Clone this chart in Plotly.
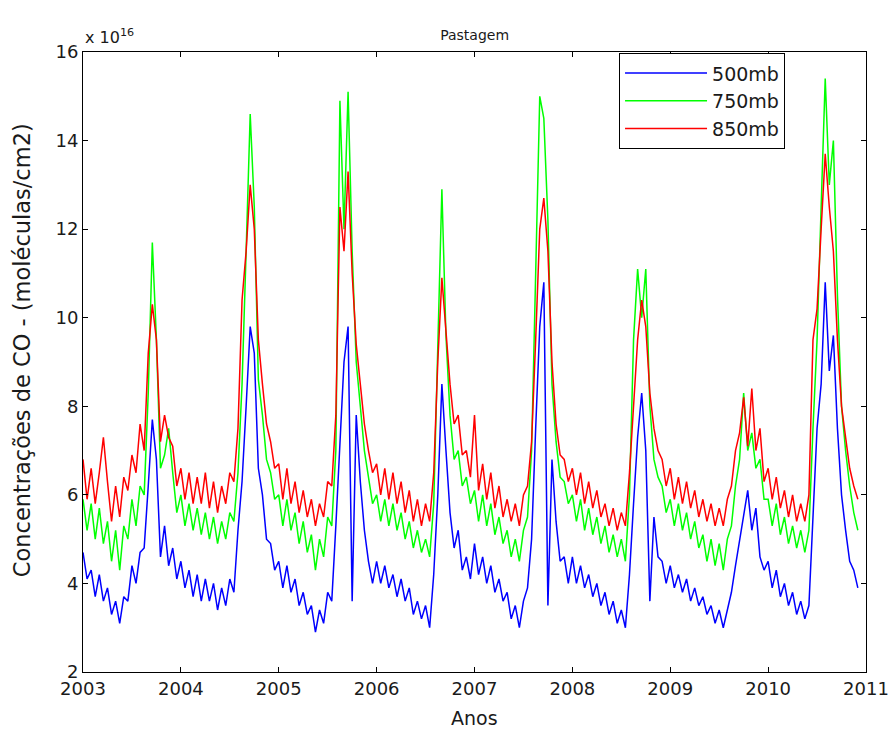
import plotly.graph_objects as go

start_year = 2003
samples_per_year = 24

# CO concentration (x 1e16 molecules/cm2), semi-monthly readings, one row per year 2003..2010
co_500mb = [
    4.7, 4.1, 4.3, 3.7, 4.2, 3.6, 3.9, 3.3, 3.6, 3.1, 3.7, 3.6, 4.4, 4.0, 4.7, 4.8, 6.2, 7.7, 6.8, 4.6, 5.3, 4.4, 4.8, 4.1,
    4.5, 3.9, 4.3, 3.7, 4.2, 3.6, 4.1, 3.6, 4.0, 3.4, 3.9, 3.5, 4.1, 3.8, 5.2, 6.3, 8.0, 9.8, 9.2, 6.6, 6.0, 5.0, 4.9, 4.3,
    4.5, 3.9, 4.4, 3.8, 4.1, 3.5, 3.8, 3.3, 3.5, 2.9, 3.4, 3.1, 3.8, 3.6, 5.3, 7.0, 9.0, 9.8, 3.6, 7.8, 6.3, 5.2, 4.5, 4.0,
    4.5, 4.0, 4.4, 3.9, 4.2, 3.7, 4.1, 3.6, 3.9, 3.3, 3.6, 3.2, 3.5, 3.0, 4.2, 6.0, 8.5, 7.0, 5.6, 4.8, 5.2, 4.3, 4.6, 4.1,
    4.9, 4.2, 4.6, 4.0, 4.4, 3.8, 4.1, 3.6, 3.8, 3.2, 3.5, 3.0, 3.6, 3.9, 5.0, 7.5, 9.8, 10.8, 3.5, 6.8, 5.4, 4.5, 4.6, 4.0,
    4.6, 4.0, 4.4, 3.9, 4.2, 3.7, 4.0, 3.5, 3.8, 3.3, 3.6, 3.1, 3.4, 3.0, 4.2, 5.8, 7.3, 8.3, 7.0, 3.6, 5.5, 4.6, 4.5, 4.0,
    4.4, 3.9, 4.2, 3.8, 4.1, 3.6, 3.9, 3.5, 3.7, 3.3, 3.5, 3.1, 3.4, 3.0, 3.4, 3.8, 4.4, 5.0, 5.6, 6.1, 5.2, 5.7, 4.6, 4.3,
    4.5, 3.9, 4.3, 3.7, 4.0, 3.5, 3.8, 3.3, 3.6, 3.2, 3.5, 5.5, 7.5, 8.5, 10.8, 8.8, 9.6, 7.5, 6.0, 5.2, 4.5, 4.3, 3.9,
]
co_750mb = [
    5.9, 5.2, 5.8, 5.0, 5.7, 4.9, 5.4, 4.5, 5.2, 4.3, 5.3, 5.0, 5.9, 5.3, 6.2, 6.0, 8.3, 11.7, 9.5, 6.6, 6.9, 7.5, 6.5, 5.6,
    6.0, 5.3, 5.8, 5.2, 5.7, 5.1, 5.6, 5.0, 5.5, 4.9, 5.4, 5.0, 5.6, 5.4, 6.5, 8.5, 11.5, 14.6, 12.5, 8.6, 7.8, 6.8, 6.5, 5.9,
    6.0, 5.3, 5.9, 5.2, 5.6, 4.9, 5.4, 4.7, 5.1, 4.3, 5.0, 4.6, 5.5, 5.3, 7.0, 14.9, 12.0, 15.1, 11.5, 9.0, 8.0, 7.0, 6.4, 5.8,
    6.0, 5.4, 5.9, 5.3, 5.8, 5.2, 5.6, 5.0, 5.4, 4.8, 5.2, 4.7, 5.0, 4.6, 5.8, 9.5, 12.9, 9.6, 7.8, 6.8, 7.0, 6.2, 6.4, 5.8,
    6.1, 5.4, 6.0, 5.3, 5.8, 5.1, 5.5, 4.9, 5.2, 4.6, 5.0, 4.5, 5.2, 5.5, 7.0, 11.0, 15.0, 14.5, 12.2, 8.5, 7.2, 6.4, 6.3, 5.8,
    6.0, 5.4, 5.9, 5.2, 5.7, 5.1, 5.5, 4.9, 5.3, 4.7, 5.1, 4.6, 5.0, 4.5, 6.0, 9.5, 11.1, 10.0, 11.1, 8.0, 6.8, 6.4, 6.2, 5.6,
    5.9, 5.3, 5.8, 5.2, 5.6, 5.0, 5.4, 4.8, 5.1, 4.5, 5.0, 4.4, 4.9, 4.3, 5.0, 5.3, 6.2, 6.8, 8.3, 7.0, 7.4, 6.6, 6.8, 5.9,
    5.9, 5.3, 5.8, 5.1, 5.5, 4.9, 5.3, 4.8, 5.2, 4.7, 5.2, 7.5, 9.5, 12.5, 15.4, 13.0, 14.0, 10.5, 8.0, 7.0, 6.2, 5.6, 5.2,
]
co_850mb = [
    6.8, 5.9, 6.6, 5.8, 6.5, 7.3, 6.3, 5.4, 6.2, 5.5, 6.4, 6.1, 6.9, 6.5, 7.6, 7.0, 9.2, 10.3, 9.5, 7.2, 7.8, 7.3, 7.1, 6.2,
    6.6, 5.9, 6.5, 5.8, 6.4, 5.8, 6.5, 5.7, 6.3, 5.6, 6.2, 5.8, 6.5, 6.3, 7.5, 10.4, 11.5, 13.0, 12.0, 9.5, 8.5, 7.6, 7.2, 6.6,
    6.7, 5.9, 6.6, 5.8, 6.3, 5.6, 6.1, 5.5, 5.9, 5.3, 5.8, 5.5, 6.3, 6.2, 7.8, 12.5, 11.5, 13.3, 11.0, 9.4, 8.5, 7.6, 7.0, 6.5,
    6.7, 6.0, 6.6, 5.9, 6.5, 5.8, 6.3, 5.6, 6.1, 5.4, 5.9, 5.3, 5.8, 5.4, 6.5, 9.0, 10.9, 9.6, 8.5, 7.6, 7.8, 6.9, 7.0, 6.4,
    7.8, 6.1, 6.7, 5.9, 6.5, 5.7, 6.2, 5.5, 5.9, 5.4, 5.8, 5.3, 6.0, 6.2, 7.2, 9.5, 12.0, 12.7, 11.5, 9.0, 7.6, 6.9, 6.8, 6.3,
    6.6, 6.0, 6.5, 5.8, 6.3, 5.7, 6.1, 5.5, 5.8, 5.3, 5.7, 5.2, 5.6, 5.3, 6.5, 8.0, 9.5, 10.4, 9.8, 8.3, 7.5, 7.0, 6.8, 6.2,
    6.6, 5.9, 6.4, 5.8, 6.3, 5.7, 6.1, 5.5, 5.9, 5.4, 5.8, 5.3, 5.7, 5.3, 5.9, 6.2, 7.0, 7.4, 8.2, 7.1, 8.4, 7.0, 7.5, 6.3,
    6.6, 5.9, 6.4, 5.7, 6.1, 5.5, 6.0, 5.4, 5.8, 5.4, 6.0, 9.5, 10.2, 12.0, 13.7, 12.5, 11.5, 9.5, 8.0, 7.3, 6.6, 6.2, 5.9,
]

year_ticks = [2003, 2004, 2005, 2006, 2007, 2008, 2009, 2010, 2011]
value_ticks = [2, 4, 6, 8, 10, 12, 14, 16]
series_names = ["500mb", "750mb", "850mb"]

t = [start_year + i / samples_per_year for i in range(len(co_500mb))]

font_family = "DejaVu Sans, Verdana, sans-serif"
txt_col = "#1a1a1a"

fig = go.Figure()
for name, vals, col in [
    (series_names[0], co_500mb, "#0000ff"),
    (series_names[1], co_750mb, "#00ff00"),
    (series_names[2], co_850mb, "#ff0000"),
]:
    fig.add_trace(go.Scatter(x=t, y=vals, mode="lines", name=name,
                             line=dict(color=col, width=1.5)))

axis_common = dict(
    showgrid=False, zeroline=False, showline=True, linecolor="black", linewidth=1,
    mirror="ticks", ticks="inside", ticklen=5, tickcolor="black", automargin=False,
    tickfont=dict(size=18, color=txt_col, family=font_family),
)

fig.update_layout(
    width=888, height=731,
    margin=dict(l=83, r=22, t=52, b=59),
    paper_bgcolor="white", plot_bgcolor="white",
    font=dict(family=font_family, color=txt_col),
    title=dict(text="Pastagem", x=0.5345, xanchor="center", y=0.952, yanchor="middle",
               font=dict(size=14, color=txt_col, family=font_family)),
    xaxis=dict(range=[2003, 2011], tickvals=year_ticks, ticktext=[str(y) for y in year_ticks],
               ticklabeloverflow="allow", **axis_common),
    yaxis=dict(range=[2, 16], tickvals=value_ticks, ticktext=[str(v) for v in value_ticks],
               **axis_common),
    legend=dict(x=0.8966, xanchor="right", y=0.998, yanchor="top",
                bordercolor="black", borderwidth=1, bgcolor="white",
                font=dict(size=19, family=font_family, color=txt_col),
                itemwidth=82, tracegroupgap=0),
    showlegend=True,
)

fig.add_annotation(text="Anos", xref="paper", yref="paper", x=0.5, y=-0.0742,
                   xanchor="center", yanchor="middle", showarrow=False,
                   font=dict(size=19, family=font_family, color=txt_col))
fig.add_annotation(text="Concentrações de CO - (moléculas/cm2)", xref="paper", yref="paper",
                   x=-0.0779, y=0.519, xanchor="center", yanchor="middle", textangle=-90,
                   showarrow=False, font=dict(size=22.5, family=font_family, color=txt_col))
fig.add_annotation(text="x 10<sup>16</sup>", xref="paper", yref="paper",
                   x=0.0, y=1.0, xanchor="left", yanchor="bottom", yshift=3,
                   showarrow=False, font=dict(size=16, family=font_family, color=txt_col))

fig.write_html("out.html")
